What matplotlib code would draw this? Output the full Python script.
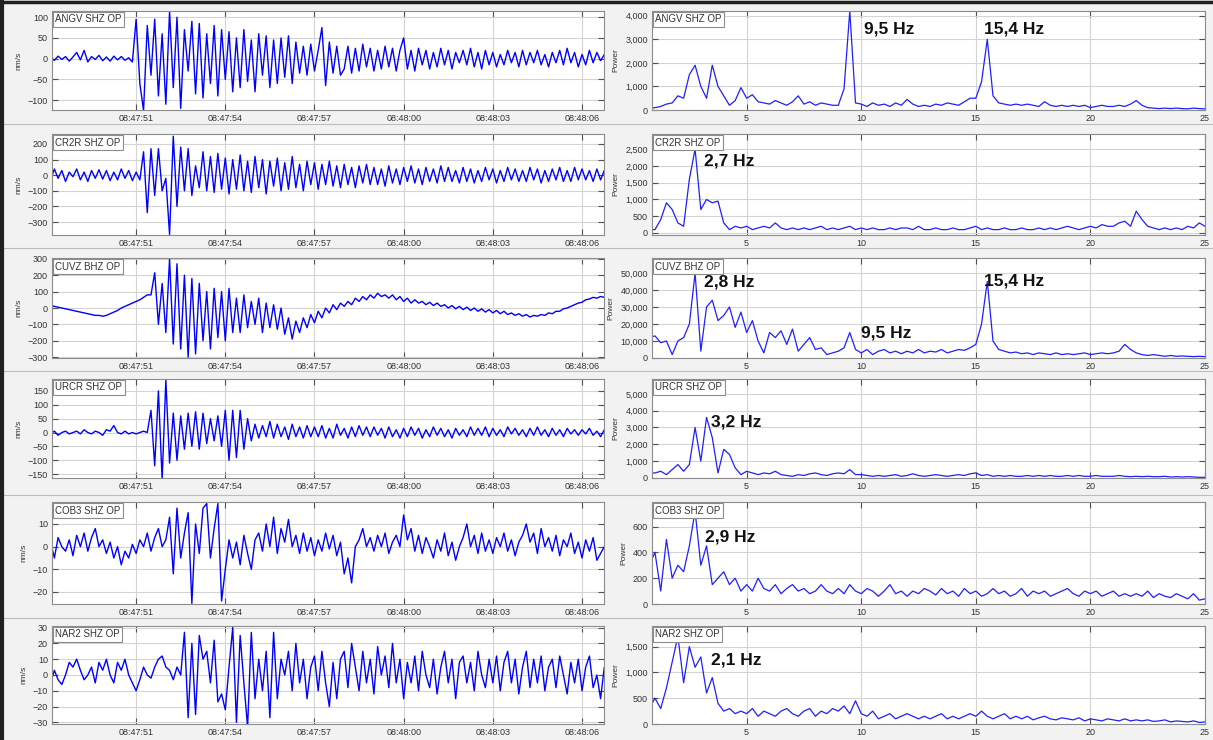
import numpy as np
import matplotlib
matplotlib.use('Agg')
import matplotlib.pyplot as plt
from matplotlib.ticker import FuncFormatter
from matplotlib.lines import Line2D

plt.rcParams['font.family'] = ['Liberation Sans', 'DejaVu Sans']

# ---- waveforms, nm/s, one value every 0.125 s from 08:47:48 (8 values per line = 1 s)
dt = 0.125
angv = [0, 3, -4, 6, -2, 5, -6, 4,
        15, -3, 20, -8, 5, -2, 8, -5,
        4, -6, 6, -3, 5, -4, 2, -8,
        95, -60, -125, 80, -40, 95, -90, 60,
        -110, 115, -70, 100, -120, 70, -30, 90,
        -85, 85, -95, 60, -60, 80, -90, 70,
        -50, 65, -80, 50, -70, 70, -55, 45,
        -80, 60, -40, 55, -70, 45, -60, 50,
        -45, 55, -60, 40, -35, 30, -40, 35,
        -30, 20, 75, -65, 40, -35, 30, -40,
        -25, 30, -35, 25, -30, 35, -20, 25,
        -30, 20, -25, 30, -20, 25, -30, 20,
        50, -25, 20, -30, 25, -15, 20, -25,
        15, -20, 25, -15, 20, -25, 15, -10,
        20, -15, 25, -20, 15, -25, 20, -15,
        15, -20, 10, -15, 20, -10, 15, -20,
        20, -15, 15, -10, 20, -15, 10, -20,
        15, -10, 20, -15, 25, -10, 15, -20,
        10, -15, 20, -10, 15, -5, 10, -10]
cr2r = [10, -30, 40, -20, 30, -40, 20, -10,
        40, -30, 20, -40, 30, -20, 35, -25,
        30, -35, 20, -30, 40, -20, 30, -35,
        20, -30, 150, -240, 170, -130, 170, -100,
        -20, -380, 250, -200, 180, -100, 170, -130,
        60, -80, 150, -100, 120, -110, 140, -90,
        110, -120, 100, -90, 130, -100, 90, -110,
        120, -80, 100, -120, 90, -70, 110, -100,
        80, -90, 120, -80, 70, -100, 90, -60,
        80, -90, 70, -60, 90, -70, 60, -80,
        70, -60, 50, -80, 60, -50, 70, -60,
        50, -60, 40, -70, 60, -50, 40, -60,
        50, -40, 60, -50, 40, -60, 50, -40,
        40, -50, 60, -40, 50, -40, 30, -50,
        50, -40, 40, -50, 30, -40, 50, -30,
        40, -50, 30, -40, 50, -30, 40, -40,
        30, -40, 50, -30, 40, -50, 30, -40,
        40, -30, 50, -40, 30, -40, 50, -30,
        40, -30, 30, -40, 40, -30, 30, -20]
cuvz = [10, 15, 10, 5, 0, -5, -10, -15,
        -20, -25, -30, -35, -40, -45, -45, -50,
        -45, -35, -25, -15, 0, 10, 20, 30,
        40, 50, 65, 80, 80, 215, -100, 150,
        -150, 300, -220, 270, -250, 200, -300, 180,
        -280, 150, -200, 100, -250, 120, -180, 100,
        -200, 120, -150, 60, -150, 80, -120, 40,
        -100, 60, -150, 30, -120, 20, -130, 0,
        -160, -60, -190, -80, -150, -60, -120, -40,
        -90, -20, -60, 0, -30, 20, -10, 30,
        10, 40, 20, 60, 40, 70, 50, 80,
        60, 90, 70, 80, 60, 80, 50, 70,
        40, 60, 30, 50, 30, 40, 20, 35,
        15, 30, 10, 20, 0, 15, -5, 10,
        -10, 5, -15, 0, -20, -5, -25, -10,
        -30, -15, -35, -20, -40, -30, -45, -35,
        -50, -40, -55, -45, -50, -40, -45, -30,
        -35, -20, -20, -5, 0, 10, 20, 30,
        35, 50, 55, 65, 60, 70, 65, 60]
urcr = [0, -5, 5, -10, 0, 5, -5, 0,
        5, -5, 10, 0, -5, 5, 0, -10,
        10, 5, 25, 0, -5, 5, -5, 0,
        -5, 0, 5, 0, 80, -120, 150, -170,
        190, -110, 70, -100, 60, -60, 70, -50,
        75, -60, 70, -40, 50, -30, 60, -50,
        80, -100, 80, -90, 80, -60, 50, -30,
        30, -20, 25, -15, 40, -20, 30, -15,
        20, -25, 30, -15, 20, -20, 25, -15,
        20, -15, 25, -20, 15, -20, 30, -10,
        15, -20, 20, -15, 25, -10, 20, -15,
        20, -10, 15, -20, 20, -15, 10, -20,
        15, -15, 20, -10, 15, -20, 10, -15,
        20, -10, 15, -15, 10, -20, 15, -10,
        10, -15, 20, -10, 15, -10, 20, -15,
        15, -10, 10, -15, 20, -5, 15, -10,
        10, -15, 15, -10, 20, -10, 10, -15,
        15, -10, 10, -15, 15, -5, 10, -10,
        10, -5, 15, -10, 5, -15, 10, -5]
cob3 = [-3, 2, -5, 4, 0, -2, 3, -4,
        5, 0, 6, -2, 4, 8, 0, 3,
        -3, 2, -5, 0, -8, -2, -5, 1,
        -3, 3, 0, 6, -2, 4, 8, 0,
        3, 13, -12, 17, -5, 6, 15, -25,
        10, -3, 17, 19, -5, 8, 19, -24,
        -10, 3, -5, 2, -8, 5, -3, -10,
        3, 6, -2, 10, 0, 13, -3, 8,
        2, 12, 0, 5, -3, 6, -2, 4,
        -4, 3, -2, 6, -1, 5, -4, 2,
        -12, -5, -16, 0, 3, 8, 0, 4,
        -2, 5, 0, 6, -3, 2, 5, 0,
        14, 3, 8, -2, 5, -3, 4, 0,
        -5, 3, -2, 6, -4, 2, -6, 0,
        4, 10, 0, 5, -3, 6, -2, 3,
        -3, 4, 0, 6, -2, 3, -4, 2,
        5, 10, 2, 6, -3, 8, 0, 4,
        -2, 5, -4, 3, 0, 6, -3, 2,
        -5, 3, -2, 4, -6, -3, 0, -4]
nar2 = [-10, -5, 3, -3, -6, 0, 8, 5,
        10, 3, -3, 0, 5, -5, 8, 3,
        10, 0, -5, 8, 3, 10, 0, -5,
        -10, -3, 5, 0, -2, 5, 10, 12,
        5, 3, -3, 5, 0, 27, -27, 20,
        -25, 25, 10, 15, -5, 22, -17, -12,
        -22, 5, 30, -30, 25, -5, -33, 27,
        -15, 10, -10, 15, -27, 27, -15, 10,
        0, 15, -10, 20, -5, 10, -15, 5,
        12, -10, 15, -5, -20, 8, -15, 10,
        15, -8, 20, 5, -10, 15, -5, 10,
        -12, 18, 0, 12, -8, 20, -5, 10,
        -15, 8, -5, 12, -10, 15, 0, -8,
        10, -12, 5, 15, -5, 10, -15, 8,
        12, -5, 8, -10, 15, 0, -8, 10,
        -5, 12, -10, 8, 15, -5, 10, -12,
        5, 15, -8, 10, -5, 12, -10, 5,
        10, -8, 12, 0, -12, 8, -5, 10,
        -10, 5, 12, -8, 0, -15, 5, -5]

# ---- spectra, power, from 0.75 Hz every 0.25 Hz (first value 0.75, then 4 per Hz, last 25 Hz)
df = 0.25
sp_angv = [80,
           100, 150, 250, 300, 600, 500, 1500, 1900, 1000, 500, 1900, 1000,
           600, 200, 400, 950, 500, 650, 350, 300, 250, 400, 300, 200,
           350, 600, 250, 350, 200, 300, 250, 200, 200, 900, 4200, 300,
           250, 150, 300, 200, 250, 150, 300, 200, 450, 250, 150, 200,
           150, 250, 200, 300, 250, 200, 350, 500, 500, 1200, 3000, 600,
           300, 250, 200, 250, 200, 250, 200, 150, 350, 200, 150, 200,
           150, 200, 150, 200, 100, 150, 200, 150, 150, 200, 150, 250,
           400, 200, 100, 80, 60, 80, 60, 80, 60, 50, 80, 60,
           50]
sp_cr2r = [100,
           100, 400, 900, 700, 300, 200, 1600, 2500, 700, 1000, 900, 950,
           300, 100, 200, 150, 200, 100, 150, 200, 150, 300, 150, 100,
           150, 100, 150, 100, 150, 200, 100, 150, 100, 150, 200, 100,
           150, 100, 150, 100, 100, 150, 100, 150, 150, 100, 200, 100,
           100, 150, 100, 100, 150, 100, 100, 150, 200, 100, 150, 100,
           100, 150, 100, 100, 150, 100, 100, 150, 100, 150, 100, 150,
           200, 150, 100, 150, 200, 150, 250, 200, 200, 300, 350, 200,
           650, 400, 200, 150, 100, 150, 100, 150, 100, 200, 150, 300,
           200]
sp_cuvz = [12000,
           13000, 9000, 10000, 2000, 10000, 12000, 20000, 50000, 4000, 30000, 34000, 22000,
           25000, 30000, 18000, 27000, 15000, 22000, 10000, 3000, 15000, 12000, 16000, 8000,
           17000, 4000, 8000, 12000, 5000, 6000, 2000, 3000, 4000, 6000, 15000, 5000,
           3000, 5000, 2000, 4000, 5000, 3000, 4000, 2500, 4000, 3000, 5000, 3000,
           4000, 3500, 5000, 3000, 4000, 5000, 4500, 6000, 8000, 20000, 45000, 10000,
           5000, 4000, 3000, 3500, 2500, 3000, 2000, 3000, 2500, 2000, 3000, 2000,
           2500, 2000, 2500, 3000, 2000, 2500, 3000, 2500, 3000, 4000, 8000, 5000,
           3000, 2000, 1500, 2000, 1500, 1000, 1500, 1000, 1200, 1000, 800, 1000,
           800]
sp_urcr = [300,
           300, 400, 200, 500, 800, 400, 800, 3000, 1000, 3600, 2400, 300,
           1700, 1400, 600, 200, 400, 300, 200, 300, 250, 400, 200, 150,
           100, 200, 150, 250, 300, 200, 150, 250, 300, 250, 500, 200,
           200, 150, 100, 150, 100, 150, 200, 100, 150, 250, 150, 100,
           150, 200, 150, 100, 150, 200, 150, 250, 300, 150, 200, 100,
           150, 100, 150, 100, 100, 150, 100, 150, 100, 150, 100, 100,
           150, 100, 150, 100, 100, 150, 100, 100, 100, 150, 100, 80,
           100, 80, 100, 80, 80, 100, 60, 80, 60, 80, 60, 40,
           40]
sp_cob3 = [300,
           400, 100, 500, 200, 300, 250, 450, 720, 300, 450, 150, 200,
           250, 150, 200, 100, 150, 100, 200, 120, 100, 150, 80, 120,
           150, 100, 120, 80, 100, 150, 100, 80, 120, 80, 150, 100,
           80, 120, 100, 60, 100, 150, 80, 100, 60, 100, 80, 120,
           100, 70, 120, 80, 100, 60, 120, 80, 100, 60, 80, 120,
           80, 100, 60, 80, 120, 60, 100, 80, 100, 60, 80, 100,
           120, 80, 60, 100, 80, 100, 60, 80, 100, 60, 80, 60,
           80, 60, 100, 50, 80, 60, 50, 80, 60, 40, 80, 30,
           40]
sp_nar2 = [300,
           500, 300, 700, 1200, 1700, 800, 1500, 1100, 1300, 600, 900, 400,
           250, 300, 200, 250, 200, 300, 150, 250, 200, 150, 250, 300,
           200, 150, 250, 300, 150, 250, 200, 300, 250, 350, 200, 450,
           200, 150, 250, 100, 150, 200, 100, 150, 200, 150, 100, 150,
           100, 150, 200, 100, 150, 100, 150, 200, 150, 250, 150, 100,
           150, 200, 100, 150, 100, 150, 80, 120, 150, 100, 80, 120,
           100, 80, 120, 60, 100, 80, 60, 100, 80, 60, 100, 60,
           80, 60, 80, 50, 60, 80, 40, 60, 50, 40, 60, 30,
           40]

stations = ['ANGV SHZ OP', 'CR2R SHZ OP', 'CUVZ BHZ OP', 'URCR SHZ OP', 'COB3 SHZ OP', 'NAR2 SHZ OP']
traces = [angv, cr2r, cuvz, urcr, cob3, nar2]
spectra = [sp_angv, sp_cr2r, sp_cuvz, sp_urcr, sp_cob3, sp_nar2]

wave_ylim = [(-124, 115), (-383, 264), (-305, 305), (-164, 193), (-25.3, 19.7), (-31, 31)]
wave_yticks = [[-100, -50, 0, 50, 100], [-300, -200, -100, 0, 100, 200],
               [-300, -200, -100, 0, 100, 200, 300], [-150, -100, -50, 0, 50, 100, 150],
               [-20, -10, 0, 10], [-30, -20, -10, 0, 10, 20, 30]]
spec_ylim = [(0, 4200), (-60, 2950), (0, 58800), (0, 5880), (0, 790), (0, 1900)]
spec_yticks = [[0, 1000, 2000, 3000, 4000], [0, 500, 1000, 1500, 2000, 2500],
               [0, 10000, 20000, 30000, 40000, 50000], [0, 1000, 2000, 3000, 4000, 5000],
               [0, 200, 400, 600], [0, 500, 1000, 1500]]

time_ticks = [3, 6, 9, 12, 15, 18]
time_labels = ['08:47:51', '08:47:54', '08:47:57', '08:48:00', '08:48:03', '08:48:06']
freq_ticks = [5, 10, 15, 20, 25]

# peak labels: (row, freq position, power position, text)
peak_labels = [(0, 10.1, 3450, '9,5 Hz'), (0, 15.35, 3450, '15,4 Hz'),
               (1, 3.15, 2150, '2,7 Hz'),
               (2, 3.15, 44500, '2,8 Hz'), (2, 15.35, 45000, '15,4 Hz'), (2, 10.0, 14500, '9,5 Hz'),
               (3, 3.45, 3350, '3,2 Hz'),
               (4, 3.2, 520, '2,9 Hz'),
               (5, 3.45, 1250, '2,1 Hz')]

W, H = 1213, 740
rows_px = [(11, 110), (134, 235), (258, 358), (379, 478), (502, 604), (626, 724)]
sep_px = [124, 248, 371, 495, 618]

fig = plt.figure(figsize=(W / 100, H / 100), dpi=100)
fig.patch.set_facecolor('#f2f2f2')

def pos(x0, x1, y0, y1):
    return [x0 / W, 1 - y1 / H, (x1 - x0) / W, (y1 - y0) / H]

def style(ax):
    ax.set_facecolor('white')
    for s in ax.spines.values():
        s.set_color('#8c8c8c')
        s.set_linewidth(0.8)
    ax.tick_params(direction='in', top=True, right=True, length=4, width=0.8,
                   color='#505050', labelsize=6.5, labelcolor='#333333', pad=3)
    ax.grid(True, color='#d4d4d4', linewidth=0.8)
    ax.set_axisbelow(True)

def label_box(ax, text):
    ax.text(0.006, 0.965, text, transform=ax.transAxes, ha='left', va='top',
            fontsize=7, color='#333333',
            bbox=dict(boxstyle='square,pad=0.25', fc='white', ec='#8c8c8c', lw=0.8))

thousands = FuncFormatter(lambda v, p: f'{v:,.0f}')

for i in range(6):
    y0, y1 = rows_px[i]
    # waveform
    ax = fig.add_axes(pos(52, 604, y0, y1))
    style(ax)
    tr = np.array(traces[i])
    t = np.arange(len(tr)) * dt
    ax.plot(t, tr, color='#0000ff', lw=1.0)
    ax.set_xlim(0.17, 18.74)
    ax.set_ylim(*wave_ylim[i])
    ax.set_xticks(time_ticks)
    ax.set_xticklabels(time_labels)
    ax.set_yticks(wave_yticks[i])
    ax.set_ylabel('nm/s', fontsize=6, color='#333333', labelpad=4)
    label_box(ax, stations[i])

    # spectrum
    ax2 = fig.add_axes(pos(652, 1205, y0, y1))
    style(ax2)
    sp = np.array(spectra[i])
    f = 0.75 + np.arange(len(sp)) * df
    ax2.plot(f, sp, color='#2020ff', lw=0.9)
    ax2.set_xlim(0.87, 25)
    ax2.set_ylim(*spec_ylim[i])
    ax2.set_xticks(freq_ticks)
    ax2.set_yticks(spec_yticks[i])
    ax2.yaxis.set_major_formatter(thousands)
    ax2.set_ylabel('Power', fontsize=6, color='#333333', labelpad=4)
    label_box(ax2, stations[i])
    for r, fx, py, txt in peak_labels:
        if r == i:
            ax2.text(fx, py, txt, fontsize=12.5, fontweight='bold', color='#111111',
                     ha='left', va='center')

# panel separators and outer border
for yp in sep_px:
    fig.add_artist(Line2D([0, 1], [1 - yp / H, 1 - yp / H], color='#bdbdbd', lw=0.8))
fig.add_artist(Line2D([0, 1], [1 - 1.5 / H, 1 - 1.5 / H], color='#202020', lw=2.5))
fig.add_artist(Line2D([2 / W, 2 / W], [0, 1], color='#202020', lw=3))

fig.savefig('out.png', dpi=100, facecolor=fig.get_facecolor())
